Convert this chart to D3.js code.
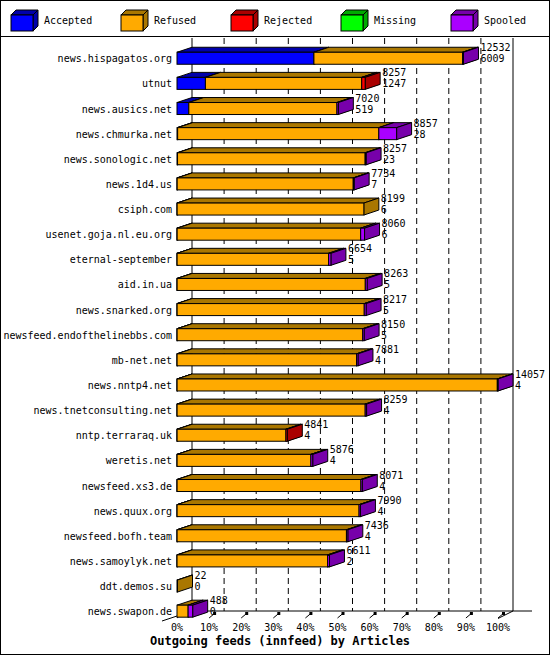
<!DOCTYPE html>
<html><head><meta charset="utf-8">
<script src="https://cdn.jsdelivr.net/npm/d3@7"></script>
<style>body{margin:0;background:#fff}text{font-family:"DejaVu Sans Mono","Liberation Mono",monospace}</style>
</head><body><svg id="c" width="550" height="655"></svg>
<script>
const hosts = ["news.hispagatos.org","utnut","news.ausics.net","news.chmurka.net","news.sonologic.net","news.1d4.us","csiph.com","usenet.goja.nl.eu.org","eternal-september","aid.in.ua","news.snarked.org","newsfeed.endofthelinebbs.com","mb-net.net","news.nntp4.net","news.tnetconsulting.net","nntp.terraraq.uk","weretis.net","newsfeed.xs3.de","news.quux.org","newsfeed.bofh.team","news.samoylyk.net","ddt.demos.su","news.swapon.de"];
const offered  = [12532,8257,7020,8857,8257,7734,8199,8060,6654,8263,8217,8150,7881,14057,8259,4841,5876,8071,7990,7436,6611,22,488];
const accepted = [6009,1247,519,28,23,7,6,6,5,5,5,5,4,4,4,4,4,4,4,4,2,0,0];
const rejected = [0,150,0,0,0,0,0,0,0,0,0,0,0,0,0,60,0,0,0,0,0,0,0];
const missing  = [0,0,0,0,0,0,0,0,0,0,0,0,0,0,0,0,0,0,0,0,0,0,0];
const spooled  = [40,0,60,780,40,40,0,170,100,80,80,60,60,30,60,0,80,60,60,60,80,0,200];
const refused  = offered.map((o,i) => o - accepted[i] - rejected[i] - missing[i]);
const ticks = [0,10,20,30,40,50,60,70,80,90,100];

const keys = ["Accepted","Refused","Rejected","Missing","Spooled"];
const front = {"Accepted":"#0000ff","Refused":"#ffaa00","Rejected":"#ff0000","Missing":"#00ff00","Spooled":"#aa00ff"};
const dark  = {"Accepted":"#0000aa","Refused":"#aa7700","Rejected":"#aa0000","Missing":"#00aa00","Spooled":"#7700aa"};
const series = {"Accepted":accepted,"Refused":refused,"Rejected":rejected,"Missing":missing,"Spooled":spooled};

const svg = d3.select("#c");
const dx = 15, dy = 5, bh = 12;
const x0 = 177, x1 = 498;
const maxv = d3.max(offered.map((o,i)=>o+spooled[i]));
const x = d3.scaleLinear().domain([0, maxv]).range([x0, x1]);
const y = d3.scaleBand().domain(hosts).range([51, 619]).paddingInner(0.5).paddingOuter(0.05);
const fs = 10;

svg.append("rect").attr("x",0.5).attr("y",0.5).attr("width",549).attr("height",654).attr("fill","none").attr("stroke","#000");
svg.append("line").attr("x1",0).attr("x2",550).attr("y1",36.5).attr("y2",36.5).attr("stroke","#000");

// legend
keys.forEach((k,i) => {
  const lx = 11 + i*110, ly = 15;
  const g = svg.append("g").attr("stroke","#000").attr("stroke-width",1);
  g.append("path").attr("d",`M${lx},${ly}l${5},-5h22l-5,5z`).attr("fill",dark[k]);
  g.append("path").attr("d",`M${lx+22},${ly}l5,-5v16l-5,5z`).attr("fill",dark[k]);
  g.append("rect").attr("x",lx).attr("y",ly).attr("width",22).attr("height",16).attr("fill",front[k]);
  svg.append("text").attr("x",lx+33).attr("y",ly+9).attr("font-size",fs).text(k);
});

// walls and grid
const yTop = 38, yFloor = 611;
svg.append("line").attr("x1",x0+dx).attr("x2",x0+dx).attr("y1",yTop).attr("y2",yFloor).attr("stroke","#000");
svg.append("line").attr("x1",x1+dx).attr("x2",x1+dx).attr("y1",yTop).attr("y2",yFloor).attr("stroke","#000");
const px = d3.scaleLinear().domain([0,100]).range([x0,x1]);
ticks.slice(1,-1).forEach(t => {
  svg.append("line").attr("x1",px(t)+dx).attr("x2",px(t)+dx).attr("y1",yTop).attr("y2",yFloor)
    .attr("stroke","#000").attr("stroke-dasharray","6,4");
});
svg.append("line").attr("x1",x0+dx).attr("x2",532).attr("y1",yFloor).attr("y2",yFloor).attr("stroke","#000");
svg.append("line").attr("x1",x0-dx).attr("y1",yFloor+dy*2).attr("x2",x0+dx).attr("y2",yFloor).attr("stroke","#000");
svg.append("line").attr("x1",x1).attr("y1",yFloor+dy*1.5).attr("x2",x1+dx).attr("y2",yFloor).attr("stroke","#000");
ticks.forEach(t => {
  const tx = px(t);
  svg.append("line").attr("x1",tx).attr("y1",yFloor+7).attr("x2",tx+6).attr("y2",yFloor+2).attr("stroke","#000");
  if (t>0) svg.append("rect").attr("x",tx+4).attr("y",yFloor+1).attr("width",3).attr("height",3).attr("fill","#000");
  svg.append("text").attr("x",tx).attr("y",yFloor+20).attr("text-anchor","middle").attr("font-size",fs).text(t+"%");
});

// bars
hosts.forEach((h,i) => {
  const by = y(h);
  let acc = 0;
  const segs = keys.map(k => ({k, v: series[k][i]})).filter(s => s.v > 0);
  const g = svg.append("g").attr("stroke","#000").attr("stroke-width",1);
  segs.forEach(s => {
    const a = x(acc), b = x(acc + s.v);
    acc += s.v;
    g.append("path").attr("d",`M${a},${by}l${dx},-${dy}H${b+dx}l-${dx},${dy}z`).attr("fill",dark[s.k]);
    g.append("path").attr("d",`M${b},${by}l${dx},-${dy}v${bh}l-${dx},${dy}z`).attr("fill",dark[s.k]);
    g.append("rect").attr("x",a).attr("y",by).attr("width",b-a).attr("height",bh).attr("fill",front[s.k]);
  });
  const lx = x(acc) + dx + 2;
  svg.append("text").attr("x",lx).attr("y",by-1).attr("font-size",fs).text(offered[i]);
  svg.append("text").attr("x",lx).attr("y",by+10).attr("font-size",fs).text(accepted[i]);
  svg.append("text").attr("x",172).attr("y",by+10).attr("text-anchor","end").attr("font-size",fs).text(h);
});

svg.append("text").attr("x",150).attr("y",645).attr("font-size",12).attr("font-weight","bold").text("Outgoing feeds (innfeed) by Articles");
</script></body></html>
